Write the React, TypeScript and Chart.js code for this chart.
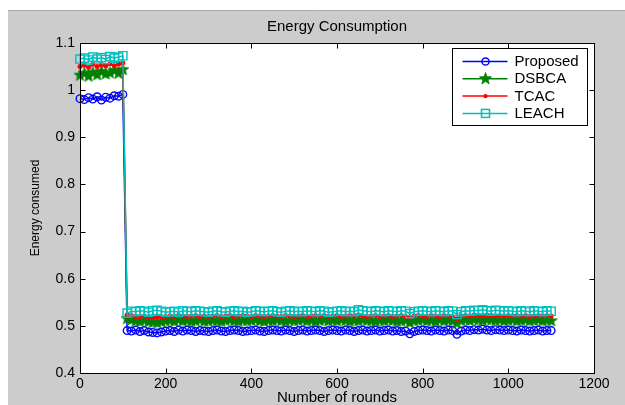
import React, { useEffect, useRef } from "react";
import { Chart, registerables } from "chart.js";

Chart.register(...registerables);

const rounds = [
  0, 10, 20, 30, 40, 50, 60, 70, 80, 90, 100,
  110, 120, 130, 140, 150, 160, 170, 180, 190, 200,
  210, 220, 230, 240, 250, 260, 270, 280, 290, 300,
  310, 320, 330, 340, 350, 360, 370, 380, 390, 400,
  410, 420, 430, 440, 450, 460, 470, 480, 490, 500,
  510, 520, 530, 540, 550, 560, 570, 580, 590, 600,
  610, 620, 630, 640, 650, 660, 670, 680, 690, 700,
  710, 720, 730, 740, 750, 760, 770, 780, 790, 800,
  810, 820, 830, 840, 850, 860, 870, 880, 890, 900,
  910, 920, 930, 940, 950, 960, 970, 980, 990, 1000,
  1010, 1020, 1030, 1040, 1050, 1060, 1070, 1080, 1090, 1100,
];

const proposed = [
  0.982, 0.98, 0.984, 0.981, 0.986, 0.979, 0.985, 0.983, 0.988, 0.987, 0.991,
  0.49, 0.489, 0.491, 0.488, 0.49, 0.487, 0.486, 0.485, 0.487, 0.489,
  0.49, 0.488, 0.491, 0.489, 0.491, 0.49, 0.488, 0.49, 0.489, 0.488,
  0.49, 0.491, 0.489, 0.488, 0.49, 0.491, 0.49, 0.488, 0.489, 0.49,
  0.491, 0.489, 0.488, 0.49, 0.491, 0.49, 0.489, 0.491, 0.49, 0.488,
  0.49, 0.491, 0.489, 0.49, 0.491, 0.49, 0.488, 0.49, 0.491, 0.49,
  0.489, 0.491, 0.49, 0.488, 0.49, 0.491, 0.489, 0.49, 0.491, 0.489,
  0.49, 0.491, 0.489, 0.49, 0.488, 0.489, 0.483, 0.488, 0.49, 0.491,
  0.49, 0.489, 0.491, 0.49, 0.489, 0.491, 0.49, 0.482, 0.489, 0.491,
  0.49, 0.492, 0.491, 0.493, 0.491, 0.49, 0.492, 0.491, 0.49, 0.491,
  0.49, 0.489, 0.491, 0.49, 0.489, 0.49, 0.491, 0.489, 0.49, 0.49,
];

const dsbca = [
  1.032, 1.036, 1.03, 1.038, 1.033, 1.04, 1.035, 1.037, 1.042, 1.036, 1.044,
  0.516, 0.513, 0.511, 0.51, 0.512, 0.509, 0.508, 0.507, 0.509, 0.511,
  0.512, 0.51, 0.513, 0.511, 0.512, 0.51, 0.511, 0.513, 0.51, 0.511,
  0.512, 0.511, 0.51, 0.512, 0.513, 0.511, 0.51, 0.512, 0.511, 0.512,
  0.513, 0.511, 0.51, 0.512, 0.511, 0.513, 0.511, 0.51, 0.512, 0.511,
  0.512, 0.513, 0.511, 0.512, 0.51, 0.512, 0.513, 0.511, 0.512, 0.511,
  0.513, 0.512, 0.51, 0.512, 0.511, 0.513, 0.512, 0.511, 0.51, 0.512,
  0.511, 0.513, 0.512, 0.51, 0.511, 0.512, 0.507, 0.511, 0.512, 0.513,
  0.511, 0.512, 0.51, 0.513, 0.511, 0.512, 0.511, 0.506, 0.512, 0.513,
  0.512, 0.514, 0.513, 0.512, 0.514, 0.513, 0.512, 0.513, 0.511, 0.512,
  0.513, 0.511, 0.512, 0.513, 0.511, 0.512, 0.513, 0.511, 0.512, 0.511,
];

const tcac = [
  1.05, 1.053, 1.048, 1.055, 1.05, 1.054, 1.051, 1.056, 1.052, 1.055, 1.058,
  0.523, 0.522, 0.52, 0.519, 0.521, 0.518, 0.517, 0.518, 0.519, 0.52,
  0.521, 0.52, 0.522, 0.521, 0.52, 0.521, 0.522, 0.52, 0.521, 0.52,
  0.521, 0.522, 0.52, 0.521, 0.522, 0.52, 0.521, 0.522, 0.521, 0.52,
  0.522, 0.521, 0.52, 0.521, 0.522, 0.521, 0.52, 0.522, 0.521, 0.52,
  0.521, 0.522, 0.52, 0.521, 0.522, 0.521, 0.522, 0.52, 0.521, 0.522,
  0.52, 0.521, 0.522, 0.521, 0.523, 0.521, 0.52, 0.521, 0.522, 0.52,
  0.521, 0.522, 0.52, 0.521, 0.522, 0.52, 0.517, 0.521, 0.522, 0.521,
  0.52, 0.522, 0.521, 0.52, 0.522, 0.521, 0.52, 0.515, 0.521, 0.522,
  0.521, 0.523, 0.522, 0.521, 0.523, 0.522, 0.521, 0.522, 0.521, 0.522,
  0.521, 0.522, 0.521, 0.522, 0.52, 0.521, 0.522, 0.521, 0.522, 0.521,
];

const leach = [
  1.066, 1.068, 1.064, 1.07, 1.066, 1.069, 1.065, 1.071, 1.068, 1.07, 1.073,
  0.527, 0.531, 0.53, 0.532, 0.531, 0.529, 0.532, 0.533, 0.531, 0.529,
  0.53, 0.531, 0.529, 0.532, 0.531, 0.53, 0.532, 0.531, 0.53, 0.529,
  0.531, 0.532, 0.53, 0.529, 0.531, 0.532, 0.53, 0.531, 0.529, 0.53,
  0.532, 0.531, 0.53, 0.531, 0.532, 0.53, 0.529, 0.531, 0.532, 0.53,
  0.531, 0.53, 0.532, 0.531, 0.53, 0.532, 0.531, 0.529, 0.53, 0.531,
  0.532, 0.53, 0.531, 0.53, 0.534, 0.532, 0.531, 0.53, 0.532, 0.531,
  0.53, 0.532, 0.531, 0.53, 0.532, 0.531, 0.526, 0.53, 0.531, 0.532,
  0.531, 0.53, 0.532, 0.531, 0.53, 0.532, 0.531, 0.524, 0.53, 0.532,
  0.531, 0.533, 0.532, 0.534, 0.532, 0.531, 0.533, 0.532, 0.531, 0.532,
  0.531, 0.53, 0.532, 0.531, 0.53, 0.532, 0.531, 0.53, 0.532, 0.531,
];

const seriesNames = ["Proposed", "DSBCA", "TCAC", "LEACH"];
const xTicks = [0, 200, 400, 600, 800, 1000, 1200];
const yTicks = [0.4, 0.5, 0.6, 0.7, 0.8, 0.9, 1, 1.1];

const FONT = '"Liberation Sans", Arial, Helvetica, sans-serif';
const BLUE = "#0000ff";
const GREEN = "#008000";
const RED = "#ff0000";
const CYAN = "#00bfbf";

function makeStar(color: string): HTMLCanvasElement {
  const c = document.createElement("canvas");
  c.width = 13;
  c.height = 13;
  const g = c.getContext("2d")!;
  const cx = 6.5, cy = 6.8, R = 6.3, r = 2.6;
  g.beginPath();
  for (let i = 0; i < 10; i++) {
    const rad = i % 2 === 0 ? R : r;
    const a = -Math.PI / 2 + (i * Math.PI) / 5;
    const px = cx + rad * Math.cos(a);
    const py = cy + rad * Math.sin(a);
    if (i === 0) g.moveTo(px, py);
    else g.lineTo(px, py);
  }
  g.closePath();
  g.fillStyle = color;
  g.fill();
  g.strokeStyle = color;
  g.lineWidth = 0.8;
  g.stroke();
  return c;
}

export default function App() {
  const ref = useRef<HTMLCanvasElement | null>(null);

  useEffect(() => {
    const canvas = ref.current;
    if (!canvas) return;
    const star = makeStar(GREEN);

    const pts = (vals: number[]) => rounds.map((r, i) => ({ x: r, y: vals[i] }));

    const styles = [
      { color: BLUE, pointStyle: "circle" as any, radius: 3.8, fill: "rgba(0,0,0,0)", order: 3 },
      { color: GREEN, pointStyle: star as any, radius: 6, fill: GREEN, order: 2 },
      { color: RED, pointStyle: "circle" as any, radius: 1.8, fill: RED, order: 1 },
      { color: CYAN, pointStyle: "rect" as any, radius: 5.8, fill: "rgba(0,0,0,0)", order: 0 },
    ];
    const allVals = [proposed, dsbca, tcac, leach];

    const bgPlugin = {
      id: "bg",
      beforeDraw(chart: any) {
        const { ctx, width, height, chartArea } = chart;
        ctx.save();
        ctx.fillStyle = "#ffffff";
        ctx.fillRect(0, 0, width, height);
        ctx.fillStyle = "#cccccc";
        ctx.fillRect(8, 11, width - 8, height - 11);
        ctx.strokeStyle = "#a8a8a8";
        ctx.lineWidth = 1;
        ctx.beginPath();
        ctx.moveTo(8, 10.5);
        ctx.lineTo(width, 10.5);
        ctx.stroke();
        ctx.fillStyle = "#ffffff";
        ctx.fillRect(chartArea.left, chartArea.top, chartArea.right - chartArea.left, chartArea.bottom - chartArea.top);
        ctx.restore();
      },
    };

    const boxPlugin = {
      id: "box",
      afterDraw(chart: any) {
        const { ctx, chartArea } = chart;
        const xs = chart.scales.x;
        const ys = chart.scales.y;
        const L = Math.round(chartArea.left) + 0.5;
        const R = Math.round(chartArea.right) + 0.5;
        const T = Math.round(chartArea.top) + 0.5;
        const B = Math.round(chartArea.bottom) + 0.5;
        ctx.save();
        ctx.strokeStyle = "#000000";
        ctx.lineWidth = 1;
        ctx.strokeRect(L, T, R - L, B - T);
        ctx.beginPath();
        xs.ticks.forEach((t: any) => {
          const px = Math.round(xs.getPixelForValue(t.value)) + 0.5;
          ctx.moveTo(px, B);
          ctx.lineTo(px, B - 5);
          ctx.moveTo(px, T);
          ctx.lineTo(px, T + 5);
        });
        ys.ticks.forEach((t: any) => {
          const py = Math.round(ys.getPixelForValue(t.value)) + 0.5;
          ctx.moveTo(L, py);
          ctx.lineTo(L + 5, py);
          ctx.moveTo(R, py);
          ctx.lineTo(R - 5, py);
        });
        ctx.stroke();

        // legend
        const lx = Math.round(chartArea.right) - 141.5;
        const ly = Math.round(chartArea.top) + 5.5;
        const lw = 135;
        const lh = 77;
        ctx.fillStyle = "#ffffff";
        ctx.fillRect(lx, ly, lw, lh);
        ctx.strokeStyle = "#000000";
        ctx.strokeRect(lx, ly, lw, lh);
        ctx.font = `15px ${FONT}`;
        ctx.textBaseline = "middle";
        ctx.textAlign = "left";
        seriesNames.forEach((name, i) => {
          const yy = ly + 13 + i * 17.3;
          const st = styles[i];
          ctx.strokeStyle = st.color;
          ctx.lineWidth = 1.5;
          ctx.beginPath();
          ctx.moveTo(lx + 10, yy);
          ctx.lineTo(lx + 55, yy);
          ctx.stroke();
          const mx = lx + 33;
          if (i === 0) {
            ctx.beginPath();
            ctx.arc(mx, yy, 3.6, 0, Math.PI * 2);
            ctx.stroke();
          } else if (i === 1) {
            ctx.drawImage(star, mx - 6.5, yy - 6.8);
          } else if (i === 2) {
            ctx.fillStyle = RED;
            ctx.beginPath();
            ctx.arc(mx, yy, 2.2, 0, Math.PI * 2);
            ctx.fill();
          } else {
            ctx.strokeRect(mx - 4, yy - 4, 8, 8);
          }
          ctx.fillStyle = "#000000";
          ctx.fillText(name, lx + 62, yy + 0.5);
        });
        ctx.restore();
      },
    };

    const chart = new Chart(canvas, {
      type: "line",
      data: {
        datasets: seriesNames.map((name, i) => ({
          label: name,
          data: pts(allVals[i]),
          borderColor: styles[i].color,
          backgroundColor: styles[i].fill,
          pointBorderColor: styles[i].color,
          pointBackgroundColor: styles[i].fill,
          pointStyle: styles[i].pointStyle,
          pointRadius: styles[i].radius,
          pointBorderWidth: 1.4,
          borderWidth: 1.5,
          tension: 0,
          fill: false,
          order: styles[i].order,
          clip: 8,
        })),
      },
      options: {
        animation: false,
        responsive: false,
        maintainAspectRatio: false,
        layout: { padding: { left: 0, right: 31, top: 0, bottom: 0 } },
        plugins: {
          legend: { display: false },
          tooltip: { enabled: false },
          title: {
            display: true,
            text: "Energy Consumption",
            color: "#000000",
            fullSize: false,
            font: { family: FONT, size: 15, weight: "normal", lineHeight: 1.2 },
            padding: { top: 18, bottom: 7 },
          },
        },
        scales: {
          x: {
            type: "linear",
            min: 0,
            max: 1200,
            afterBuildTicks: (s: any) => {
              s.ticks = xTicks.map((v) => ({ value: v }));
            },
            afterFit: (s: any) => {
              s.height = 32;
            },
            grid: { display: false, drawTicks: false },
            border: { display: false },
            ticks: {
              padding: 3,
              color: "#000000",
              font: { family: FONT, size: 14 },
              maxRotation: 0,
              autoSkip: false,
              callback: (v: any) => String(Math.round(Number(v))),
            },
            title: {
              display: true,
              text: "Number of rounds",
              color: "#000000",
              font: { family: FONT, size: 15, lineHeight: 1 },
              padding: { top: 0.5, bottom: 0 },
            },
          },
          y: {
            type: "linear",
            min: 0.4,
            max: 1.1,
            afterBuildTicks: (s: any) => {
              s.ticks = yTicks.map((v) => ({ value: v }));
            },
            afterFit: (s: any) => {
              s.width = 80;
            },
            grid: { display: false, drawTicks: false },
            border: { display: false },
            ticks: {
              padding: 5,
              color: "#000000",
              font: { family: FONT, size: 14 },
              autoSkip: false,
              callback: (v: any) => String(Number(Number(v).toFixed(1))),
            },
            title: {
              display: true,
              text: "Energy consumed",
              color: "#000000",
              font: { family: FONT, size: 12, lineHeight: 1 },
              padding: { top: 30, bottom: 0 },
            },
          },
        },
      },
      plugins: [bgPlugin, boxPlugin],
    } as any);

    return () => chart.destroy();
  }, []);

  return (
    <div style={{ position: "absolute", left: 0, top: 0, width: 625, height: 405 }}>
      <canvas ref={ref} width={625} height={405} style={{ display: "block", width: 625, height: 405 }} />
    </div>
  );
}
